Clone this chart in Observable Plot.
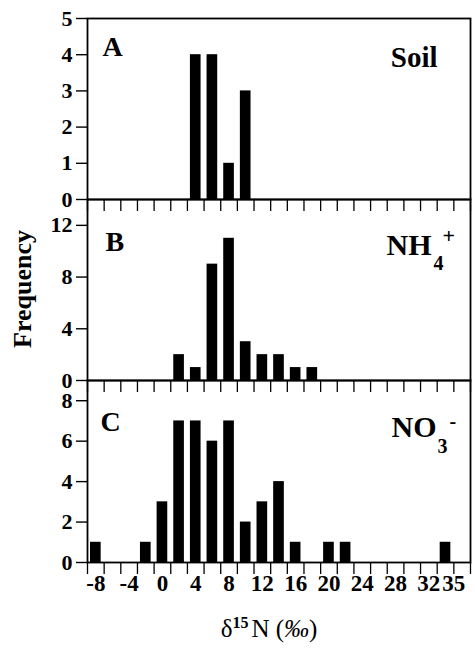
<!DOCTYPE html>
<html>
<head>
<meta charset="utf-8">
<script src="https://cdn.jsdelivr.net/npm/d3@7"></script>
<script src="https://cdn.jsdelivr.net/npm/@observablehq/plot@0.6"></script>
<style>
  html, body { margin: 0; padding: 0; background: white; }
  #chart { position: relative; width: 475px; height: 652px; background: white; font-family: "Liberation Serif", serif; }
  #chart svg { position: absolute; left: 0; top: 0; }
  #ylab { position: absolute; left: 23px; top: 289px; transform: translate(-50%, -50%) rotate(-90deg); font-weight: bold; font-size: 26px; white-space: nowrap; }
  #xlab { position: absolute; left: 269px; top: 628px; transform: translate(-50%, -50%); font-size: 25px; white-space: nowrap; }
  #xlab sup { font-size: 16px; vertical-align: 9px; margin-right: 3px; font-weight: bold; }
</style>
</head>
<body>
<div id="chart">
  <div id="ylab">Frequency</div>
  <div id="xlab">δ<sup>15</sup>N (<i>‰</i>)</div>
</div>
<script>
// δ15N bin centres (‰) and frequencies
const soilX = [4, 6, 8, 10];
const soilN = [4, 4, 1, 3];
const nh4X = [2, 4, 6, 8, 10, 12, 14, 16, 18];
const nh4N = [2, 1, 9, 11, 3, 2, 2, 1, 1];
const no3X = [-8, -2, 0, 2, 4, 6, 8, 10, 12, 14, 16, 20, 22, 34];
const no3N = [1, 1, 3, 7, 7, 6, 7, 2, 3, 4, 1, 1, 1, 1];

// tick marks (bin edges) and tick labels
const edgeTicks = [-9, -7, -5, -3, -1, 1, 3, 5, 7, 9, 11, 13, 15, 17, 19, 21, 23, 25, 27, 29, 31, 33, 35, 37];
const xLabels = [-8, -4, 0, 4, 8, 12, 16, 20, 24, 28, 32, 35];
const yTicksA = [0, 1, 2, 3, 4, 5];
const yTicksB = [0, 4, 8, 12];
const yTicksC = [0, 2, 4, 6, 8];

const xDomain = [-9, 37];
const font = "Liberation Serif, serif";
const fmt = d => String(d);

function rows(xs, ns) { return xs.map((x, i) => ({x, n: ns[i]})); }

function panel({data, yDomain, yTicks, top, bottom, labels, last}) {
  const marks = [
    Plot.rectY(data, {x1: d => d.x - 1, x2: d => d.x + 1, y: "n", fill: "black", insetLeft: 3, insetRight: 3}),
    Plot.axisY({ticks: yTicks, tickFormat: fmt, tickSize: 11, tickPadding: 4, label: null, fontSize: 22, fontWeight: "bold", strokeWidth: 1.4}),
    Plot.axisX({ticks: edgeTicks, tickSize: 12, tickFormat: () => "", label: null, strokeWidth: 1.3}),
    Plot.frame({stroke: "black", strokeWidth: 1.8}),
    ...labels
  ];
  if (last) {
    marks.push(Plot.axisX({ticks: xLabels, tickFormat: fmt, tickSize: 0, tickPadding: 12, label: null, fontSize: 23, fontWeight: "bold"}));
  }
  return Plot.plot({
    width: 475,
    height: 652,
    marginTop: top,
    marginBottom: 652 - bottom,
    marginLeft: 87,
    marginRight: 5,
    x: {domain: xDomain},
    y: {domain: yDomain},
    style: {background: "transparent", overflow: "visible", fontFamily: font, fontSize: "23px", fontWeight: "bold"},
    marks
  });
}

function lab(text, opts) {
  return Plot.text([text], {text: d => d, fontSize: 28, fontWeight: "bold", fontFamily: font, lineAnchor: "bottom", fill: "black", ...opts});
}

const chart = document.getElementById("chart");

chart.appendChild(panel({
  data: rows(soilX, soilN), yDomain: [0, 5], yTicks: yTicksA, top: 18, bottom: 199,
  labels: [
    lab("A", {frameAnchor: "top-left", textAnchor: "start", dx: 15, dy: 37}),
    lab("Soil", {frameAnchor: "top-right", textAnchor: "end", dx: -33, dy: 48, fontSize: 29})
  ]
}));

chart.appendChild(panel({
  data: rows(nh4X, nh4N), yDomain: [0, 14], yTicks: yTicksB, top: 199, bottom: 380,
  labels: [
    lab("B", {frameAnchor: "top-left", textAnchor: "start", dx: 18, dy: 51}),
    lab("NH", {frameAnchor: "top-right", textAnchor: "end", dx: -39, dy: 55, fontSize: 30}),
    lab("4", {frameAnchor: "top-right", textAnchor: "start", dx: -37, dy: 70, fontSize: 20}),
    lab("+", {frameAnchor: "top-right", textAnchor: "start", dx: -28, dy: 43, fontSize: 22})
  ]
}));

chart.appendChild(panel({
  data: rows(no3X, no3N), yDomain: [0, 9], yTicks: yTicksC, top: 380, bottom: 562, last: true,
  labels: [
    lab("C", {frameAnchor: "top-left", textAnchor: "start", dx: 13, dy: 50}),
    lab("NO", {frameAnchor: "top-right", textAnchor: "end", dx: -34, dy: 56, fontSize: 30}),
    lab("3", {frameAnchor: "top-right", textAnchor: "start", dx: -33, dy: 72, fontSize: 20}),
    lab("-", {frameAnchor: "top-right", textAnchor: "start", dx: -21, dy: 47, fontSize: 20})
  ]
}));
</script>
</body>
</html>
